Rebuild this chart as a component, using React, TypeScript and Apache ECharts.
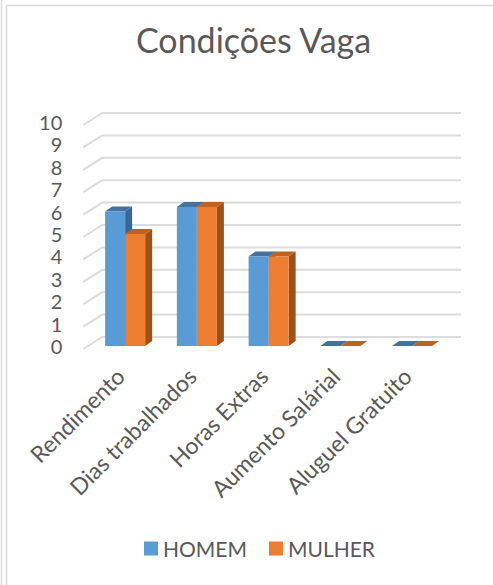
import React, { useEffect, useRef } from "react";
import * as echarts from "echarts";

const categories = ["Rendimento", "Dias trabalhados", "Horas Extras", "Aumento Salárial", "Aluguel Gratuito"];
const homem = [6, 6.2, 4, 0, 0];
const mulher = [5, 6.2, 4, 0, 0];
const yTicks = [0, 1, 2, 3, 4, 5, 6, 7, 8, 9, 10];

const FONT = "Lato";
const TEXT = "#595959";

function barRenderer(side: number, front: string, top: string, sideCol: string) {
  return (params: any, api: any) => {
    const idx = api.value(0);
    const v = api.value(1);
    const pTop = api.coord([idx, v]);
    const pBase = api.coord([idx, 0]);
    const catW = api.size([1, 0])[0];
    const bw = catW * 0.279;
    const x0 = side < 0 ? pTop[0] - bw : pTop[0];
    const x1 = x0 + bw;
    const yT = pTop[1];
    const yB = pBase[1];
    const dx = 7;
    const dy = -5;
    return {
      type: "group",
      children: [
        {
          type: "polygon",
          shape: { points: [[x1, yT], [x1 + dx, yT + dy], [x1 + dx, yB + dy], [x1, yB]] },
          style: { fill: sideCol },
        },
        {
          type: "polygon",
          shape: { points: [[x0, yT], [x0 + dx, yT + dy], [x1 + dx, yT + dy], [x1, yT]] },
          style: { fill: top },
        },
        {
          type: "rect",
          shape: { x: x0, y: yT, width: bw, height: yB - yT },
          style: { fill: front },
        },
      ],
    };
  };
}

export default function App() {
  const ref = useRef<HTMLDivElement>(null);
  useEffect(() => {
    if (!ref.current) return;
    const chart = echarts.init(ref.current, undefined, { renderer: "svg" });
    chart.setOption({
      animation: false,
      backgroundColor: "#ffffff",
      title: {
        text: "Condições Vaga",
        left: 136,
        top: 22,
        padding: 0,
        textStyle: { fontFamily: FONT, fontSize: 34, fontWeight: "normal", color: TEXT },
      },
      legend: {
        data: [
          { name: "HOMEM", icon: "rect" },
          { name: "MULHER", icon: "rect" },
        ],
        left: 144,
        top: 538,
        padding: 0,
        itemWidth: 14,
        itemHeight: 14,
        itemGap: 22,
        textStyle: { fontFamily: FONT, fontSize: 21, color: TEXT },
      },
      grid: { left: 89.25, right: 45, top: 122, bottom: 239 },
      xAxis: {
        type: "category",
        data: categories,
        axisLine: { show: false },
        axisTick: { show: false },
        splitLine: { show: false },
        axisLabel: {
          interval: 0,
          rotate: 45,
          margin: 21,
          padding: [0, 7, 0, 0],
          fontFamily: FONT,
          fontSize: 23,
          color: TEXT,
        },
      },
      yAxis: {
        type: "value",
        min: 0,
        max: 10,
        interval: 1,
        axisLine: { show: false },
        axisTick: { show: false },
        splitLine: { show: false },
        axisLabel: {
          margin: 27,
          fontFamily: FONT,
          fontSize: 20,
          color: TEXT,
          padding: [6, 0, 0, 0],
        },
      },
      graphic: [
        { type: "line", shape: { x1: 1.5, y1: 0, x2: 1.5, y2: 585 }, style: { stroke: "#dcdcdc", lineWidth: 1.5 } },
        { type: "line", shape: { x1: 6.5, y1: 5.5, x2: 6.5, y2: 585 }, style: { stroke: "#d9d9d9", lineWidth: 1.5 } },
        { type: "line", shape: { x1: 6.5, y1: 5.5, x2: 493, y2: 5.5 }, style: { stroke: "#d9d9d9", lineWidth: 1.5 } },
      ],
      series: [
        {
          type: "custom",
          name: "grid",
          silent: true,
          z: 1,
          data: yTicks.map((t) => [0, t]),
          renderItem: (params: any, api: any) => {
            const v = api.value(1);
            const y = api.coord([0, v])[1];
            const cs = params.coordSys;
            const xl = cs.x;
            const xr = cs.x + cs.width;
            return {
              type: "polyline",
              shape: { points: [[xl - 6, y + 3], [xl + 13, y - 9], [xr + 13, y - 9]] },
              style: { stroke: "#dcdcdc", lineWidth: 2, fill: "none" },
            };
          },
        },
        {
          type: "custom",
          name: "HOMEM",
          z: 2,
          itemStyle: { color: "#5B9BD5" },
          data: homem.map((v, i) => [i, v]),
          renderItem: barRenderer(-1, "#5B9BD5", "#43729F", "#3C6790"),
        },
        {
          type: "custom",
          name: "MULHER",
          z: 3,
          itemStyle: { color: "#ED7D31" },
          data: mulher.map((v, i) => [i, v]),
          renderItem: barRenderer(1, "#ED7D31", "#BD6224", "#9E5019"),
        },
      ],
    });
    return () => chart.dispose();
  }, []);
  return (
    <div
      ref={ref}
      style={{ position: "fixed", left: 0, top: 0, width: 493, height: 585, background: "#fff" }}
    />
  );
}
